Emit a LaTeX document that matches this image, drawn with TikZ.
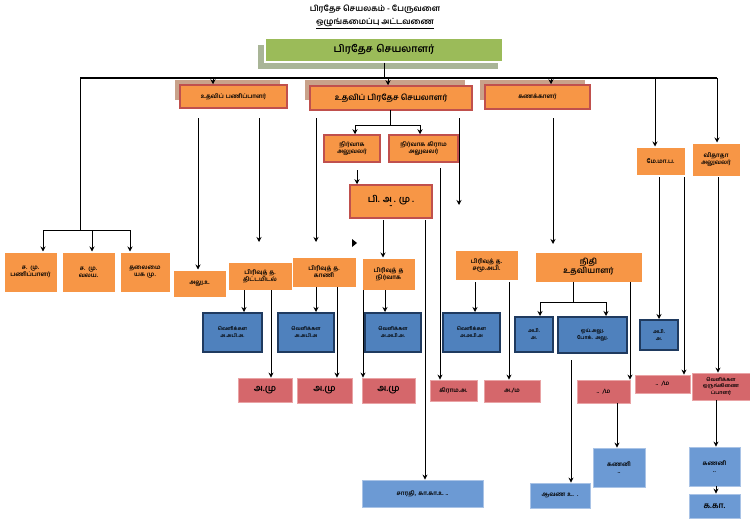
\documentclass[tikz,border=0pt]{standalone}
\usepackage{fontspec}
\setmainfont[Script=Tamil]{Hind Madurai}
\usetikzlibrary{arrows.meta}
\definecolor{org}{HTML}{F79646}
\definecolor{orgb}{HTML}{C0504D}
\definecolor{brn}{HTML}{C9A28A}
\definecolor{grn}{HTML}{9BBB59}
\definecolor{grs}{HTML}{A9B597}
\definecolor{blu}{HTML}{4F81BD}
\definecolor{blb}{HTML}{1F3A5F}
\definecolor{lbl}{HTML}{6C9AD4}
\definecolor{lbb}{HTML}{A9C3E6}
\definecolor{rdd}{HTML}{D5676B}
\definecolor{rdb}{HTML}{E9A3A5}
\tikzset{
 base/.style={inner sep=1pt,align=center,font=\bfseries\fontsize{6}{7}\selectfont},
 obox/.style={base,fill=org,draw=orgb,line width=1.5pt},
 pbox/.style={base,fill=org,draw=white,line width=1pt},
 gbox/.style={base,fill=grn,draw=white,line width=1.5pt,font=\bfseries\fontsize{10}{12}\selectfont},
 bbox/.style={base,fill=blu,draw=blb,line width=2pt,font=\bfseries\fontsize{5}{7}\selectfont},
 rbox/.style={base,fill=rdd,draw=rdb,line width=0.8pt},
 lbox/.style={base,fill=lbl,draw=lbb,line width=0.8pt},
 arr/.style={line width=1pt,-{Stealth[length=5pt,width=5pt]}},
 ln/.style={line width=1pt}
}
\newcommand{\bx}[7]{\pgfmathsetmacro\cx{(#3+#5)/2}\pgfmathsetmacro\cy{(#4+#6)/2}\pgfmathsetmacro\ww{#5-#3}\pgfmathsetmacro\hh{#6-#4}%
 \node[#2,minimum width=\ww pt,minimum height=\hh pt,text width=\ww pt-4pt] (#1) at (\cx,\cy) {#7};}
\begin{document}
\begin{tikzpicture}[x=1pt,y=-1pt]
\useasboundingbox (0,0) rectangle (750,519);
\node[font=\bfseries\fontsize{8}{9}\selectfont] (t1) at (375,9) {பிரதேச செயலகம் - பேருவளை};
\node[font=\bfseries\fontsize{8}{9}\selectfont] (t2) at (375,24) {\underline{ஒழுங்கமைப்பு அட்டவணை}};
% shadows
\fill[grs] (258,45) rectangle (498,69);
\fill[brn] (175,80) rectangle (280,100);
\fill[brn] (305,80) rectangle (465,100);
\fill[brn] (480,80) rectangle (585,100);
\bx{top}{gbox}{265}{38}{503}{62}{பிரதேச செயலாளர்}
\draw[ln] (top.south) -- (top.south |- 0,78);
\draw[line width=2pt] (80,78) -- (717,78);
\bx{a}{obox}{180}{85}{287}{108}{உதவிப் பணிப்பாளர்}
\bx{b}{obox}{310}{86}{472}{110}{\fontsize{8}{9}\selectfont உதவிப் பிரதேச செயலாளர்}
\bx{c}{obox}{485}{85}{590}{109}{கணக்காளர்}
\draw[arr] (213,78) -- (213,0 |- a.north);
\draw[arr] (388,78) -- (388,0 |- b.north);
\draw[arr] (551,78) -- (551,0 |- c.north);
\bx{mm}{pbox}{636}{147}{685}{175}{மே.மா.ப.}
\bx{vt}{pbox}{692}{143}{740}{176}{விதாதா அலுவலர்}
\draw[arr] (655,78) -- (655,0 |- mm.north);
\draw[arr] (717,78) -- (717,0 |- vt.north);
% left group
\draw[ln] (80,78) -- (80,230);
\draw[ln] (43,230) -- (131,230);
\bx{s1}{pbox}{4}{252}{57}{292}{ச. மு.\\ பணிப்பாளர்}
\bx{s2}{pbox}{62}{252}{115}{292}{ச. மு.\\ வலய.}
\bx{s3}{pbox}{120}{252}{170}{292}{தலைமை\\ யக மு.}
\draw[arr] (43,230) -- (43,0 |- s1.north);
\draw[arr] (92,230) -- (92,0 |- s2.north);
\draw[arr] (130,230) -- (130,0 |- s3.north);
% under a
\bx{al}{pbox}{173}{270}{226}{297}{அலு.உ}
\bx{pt}{pbox}{228}{262}{292}{290}{பிரிவுத் த.\\ திட்டமிடல்}
\draw[arr] (198,118) -- (198,0 |- al.north);
\draw[arr] (259,118) -- (259,242);
% under b
\draw[ln] (390,110) -- (390,125);
\draw[ln] (355,125) -- (420,125);
\bx{n1}{obox}{324}{135}{380}{162}{நிர்வாக\\ அலுவலர்}
\bx{n2}{obox}{389}{135}{458}{162}{நிர்வாக கிராம\\ அலுவலர்}
\draw[arr] (355,125) -- (355,0 |- n1.north);
\draw[arr] (420,125) -- (420,0 |- n2.north);
\bx{pam}{obox}{350}{185}{432}{218}{\fontsize{9}{9}\selectfont பி. அ . மு .\\[-1pt] -}
\draw[arr] (357,170) -- (357,0 |- pam.north);
\bx{pk}{pbox}{292}{257}{356}{287}{பிரிவுத் த.\\ காணி}
\draw[arr] (316,118) -- (316,242);
\fill (352,239) -- (357,243) -- (352,247) -- cycle;
\bx{pn}{pbox}{362}{258}{415}{290}{பிரிவுத் த\\ நிர்வாக}
\draw[arr] (383,220) -- (383,0 |- pn.north);
\bx{sa}{pbox}{455}{250}{518}{280}{பிரிவுத் த.\\ சமூ.அபி.}
\draw[arr] (459,118) -- (459,205);
% under c
\bx{nu}{pbox}{535}{252}{642}{282}{\fontsize{8}{9}\selectfont நிதி\\ உதவியாளர்}
\draw[arr] (553,118) -- (553,244);
% blue row
\bx{b1}{bbox}{203}{313}{262}{352}{வெளிக்கள\\ அ.அபி.அ.}
\bx{b2}{bbox}{278}{313}{334}{352}{வெளிக்கள\\ அ.அபி.அ}
\bx{b3}{bbox}{365}{313}{421}{352}{வெளிக்கள\\ அ.அபி.அ.}
\bx{b4}{bbox}{443}{313}{500}{352}{வெளிக்கள\\ அ.அபி.அ}
\bx{b5}{bbox}{515}{317}{553}{352}{அபி.\\ அ.}
\bx{b6}{bbox}{558}{317}{627}{353}{ஓய்.அலு.\\ போக். அலு.}
\bx{b7}{bbox}{640}{320}{678}{350}{அபி.\\ அ.}
\draw[arr] (244,290) -- (244,0 |- b1.north);
\draw[arr] (316,287) -- (316,0 |- b2.north);
\draw[arr] (385,290) -- (385,0 |- b3.north);
\draw[arr] (475,282) -- (475,0 |- b4.north);
\draw[ln] (573,282) -- (573,302);
\draw[ln] (540,302) -- (606,302);
\draw[arr] (540,302) -- (540,0 |- b5.north);
\draw[arr] (606,302) -- (606,0 |- b6.north);
\draw[arr] (659,177) -- (659,0 |- b7.north);
% red row
\bx{r1}{rbox}{238}{378}{292}{402}{\fontsize{9}{10}\selectfont அ.மு}
\bx{r2}{rbox}{297}{378}{352}{403}{\fontsize{9}{10}\selectfont அ.மு}
\bx{r3}{rbox}{362}{378}{415}{403}{\fontsize{9}{10}\selectfont அ.மு}
\bx{r4}{rbox}{430}{380}{477}{401}{கிராம.அ.}
\bx{r5}{rbox}{484}{380}{540}{402}{அ./ம}
\bx{r6}{rbox}{577}{380}{630}{403}{.. /ம}
\bx{r7}{rbox}{635}{375}{690}{393}{.. /ம}
\bx{r8}{rbox}{692}{373}{750}{400}{\fontsize{5}{6}\selectfont வெளிக்கள\\ ஒருங்கிணை\\ ப்பாளர்}
\draw[arr] (271,290) -- (271,0 |- r1.north);
\draw[arr] (337,287) -- (337,0 |- r2.north);
\draw[arr] (363,290) -- (363,0 |- r3.north);
\draw[arr] (440,168) -- (440,0 |- r4.north);
\draw[arr] (509,282) -- (509,0 |- r5.north);
\draw[arr] (630,282) -- (630,0 |- r6.north);
\draw[arr] (684,177) -- (684,0 |- r7.north);
\draw[arr] (718,177) -- (718,0 |- r8.north);
% light blue
\bx{l1}{lbox}{362}{480}{483}{507}{சாரதி, கா.கா.உ ..}
\bx{l2}{lbox}{530}{483}{590}{508}{ஆவண உ. .}
\bx{l3}{lbox}{593}{448}{645}{487}{கணனி\\ ..}
\bx{l4}{lbox}{689}{447}{740}{486}{கணனி\\ ..}
\bx{l5}{lbox}{689}{494}{740}{518}{\fontsize{8}{9}\selectfont க.கா.}
\draw[arr] (425,220) -- (425,0 |- l1.north);
\draw[arr] (571,360) -- (571,0 |- l2.north);
\draw[arr] (617,403) -- (617,0 |- l3.north);
\draw[arr] (716,400) -- (716,0 |- l4.north);
\draw[arr] (716,486) -- (716,0 |- l5.north);
\end{tikzpicture}
\end{document}
